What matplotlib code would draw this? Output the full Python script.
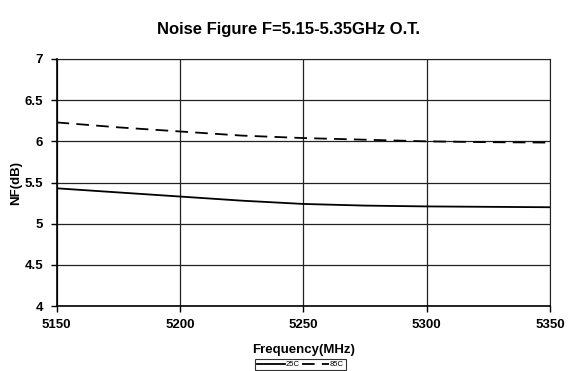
import matplotlib
matplotlib.use("Agg")
from matplotlib import pyplot as plt

plt.rcParams['font.family'] = ['Liberation Sans', 'DejaVu Sans']

freq = [5150, 5175, 5200, 5225, 5250, 5275, 5300, 5325, 5350]
nf_25c = [5.43, 5.38, 5.33, 5.28, 5.24, 5.22, 5.21, 5.205, 5.20]
nf_85c = [6.23, 6.17, 6.12, 6.07, 6.04, 6.02, 6.00, 5.99, 5.985]
yticks = [4, 4.5, 5, 5.5, 6, 6.5, 7]
xticks = [5150, 5200, 5250, 5300, 5350]

fig = plt.figure(figsize=(5.77, 3.71), dpi=100)
ax = fig.add_axes([0.098, 0.175, 0.855, 0.666])

ax.plot(freq, nf_25c, color='black', lw=1.3, label='25C')
ax.plot(freq, nf_85c, color='black', lw=1.3, ls=(0, (7, 4)), label='85C')

ax.set_xlim(5150, 5350)
ax.set_ylim(4, 7)
ax.set_xticks(xticks)
ax.set_yticks(yticks)
ax.set_yticklabels(['4', '4.5', '5', '5.5', '6', '6.5', '7'])
ax.grid(True, color='#222222', lw=0.9)
ax.tick_params(direction='out', length=4.5, width=1, labelsize=9.5, pad=5)
for lab in ax.get_xticklabels() + ax.get_yticklabels():
    lab.set_fontweight('bold')
for side in ['top', 'right']:
    ax.spines[side].set_color('#222222')
for side in ['left', 'bottom']:
    ax.spines[side].set_linewidth(1.2)

ax.set_xlabel('Frequency(MHz)', fontsize=9.5, fontweight='bold', labelpad=9)
ax.set_ylabel('NF(dB)', fontsize=9.5, fontweight='bold', labelpad=2)
fig.suptitle('Noise Figure F=5.15-5.35GHz O.T.', fontsize=12, fontweight='bold', y=0.94)

leg = fig.legend(loc='lower center', bbox_to_anchor=(0.521, -0.008), ncol=2, fontsize=5.5,
                 frameon=True, fancybox=False, edgecolor='black', handlelength=3.6,
                 handletextpad=0.1, columnspacing=0.3, borderpad=0.25)
leg.get_frame().set_linewidth(0.8)

fig.savefig('out.png', dpi=100)
